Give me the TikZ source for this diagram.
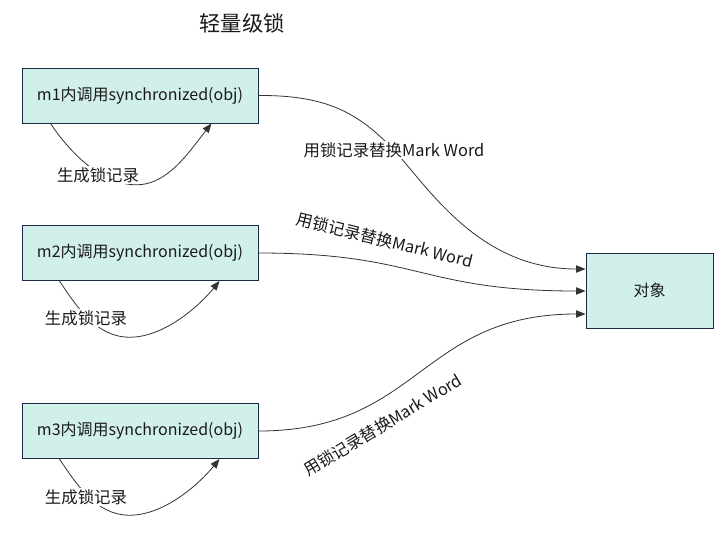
\documentclass[tikz,border=0pt]{standalone}
\usepackage{fontspec}
\setmainfont{Noto Sans CJK SC}
\usetikzlibrary{arrows.meta,calc}
\definecolor{boxfill}{HTML}{D2F0EA}
\definecolor{boxline}{HTML}{1C2A4A}
\definecolor{linecol}{HTML}{333333}
\definecolor{txt}{HTML}{1A1A1A}
\begin{document}
\begin{tikzpicture}[x=0.75pt,y=-0.75pt,
  box/.style={draw=boxline,fill=boxfill,line width=0.75pt,minimum width=177pt,minimum height=41.25pt,inner sep=0pt,font=\fontsize{12}{14}\selectfont,text=txt},
  objbox/.style={draw=boxline,fill=boxfill,line width=0.75pt,minimum width=95.25pt,minimum height=56.25pt,inner sep=0pt,font=\fontsize{12}{14}\selectfont,text=txt},
  conn/.style={draw=linecol,line width=0.6pt,-{Triangle[length=7pt,width=5.5pt]}},
  lbl/.style={font=\fontsize{12.3}{14}\selectfont,text=txt,inner sep=1pt},
  titlestyle/.style={font=\fontsize{16}{19}\selectfont,text=txt}]
\useasboundingbox (0,0) rectangle (722,540);
\fill[white] (0,0) rectangle (722,540);

\node[titlestyle] (title) at (242,23) {轻量级锁};

\node[box] (b1) at (140,95.5) {m1内调用synchronized(obj)};
\node[box] (b2) at (140,253) {m2内调用synchronized(obj)};
\node[box] (b3) at (140,431) {m3内调用synchronized(obj)};
\node[objbox] (obj) at (649.5,290.5) {对象};

% self loops
\coordinate (s1a) at ($(b1.south west)+(29,0)$);
\coordinate (s1b) at ($(b1.south west)+(190,0)$);
\coordinate (s2a) at ($(b2.south west)+(38,0)$);
\coordinate (s2b) at ($(b2.south west)+(198,0)$);
\coordinate (s3a) at ($(b3.south west)+(38,0)$);
\coordinate (s3b) at ($(b3.south west)+(198,0)$);

\draw[conn] (s1a) .. controls (75,160) and (110,190) .. (145,184) .. controls (172,179) and (192,148) .. (s1b);
\node[lbl,fill=white] (l1) at (98,175) {生成锁记录};
\draw[conn] (s2a) .. controls (80,312) and (100,340) .. (135,337) .. controls (168,334) and (200,305) .. (s2b);
\node[lbl,fill=white] (l2) at (86,318) {生成锁记录};
\draw[conn] (s3a) .. controls (80,490) and (100,518) .. (135,515) .. controls (168,512) and (200,483) .. (s3b);
\node[lbl,fill=white] (l3) at (86,497) {生成锁记录};

% connectors to object
\coordinate (o1) at ($(obj.west)+(0,-21.5)$);
\coordinate (o2) at ($(obj.west)+(0,0.5)$);
\coordinate (o3) at ($(obj.west)+(0,23.5)$);
\draw[conn] (b1.east) .. controls (330,95) and (360,115) .. (394,150) .. controls (430,190) and (480,269) .. (o1);
\node[lbl,fill=white] (m1) at (394,150) {用锁记录替换Mark Word};
\draw[conn] (b2.east) .. controls (420,253) and (420,291) .. (o2);
\node[lbl,rotate=-14] (m2) at (385,240) {用锁记录替换Mark Word};
\draw[conn] (b3.east) .. controls (420,431) and (420,314) .. (o3);
\node[lbl,rotate=31] (m3) at (383,425) {用锁记录替换Mark Word};
\end{tikzpicture}
\end{document}
